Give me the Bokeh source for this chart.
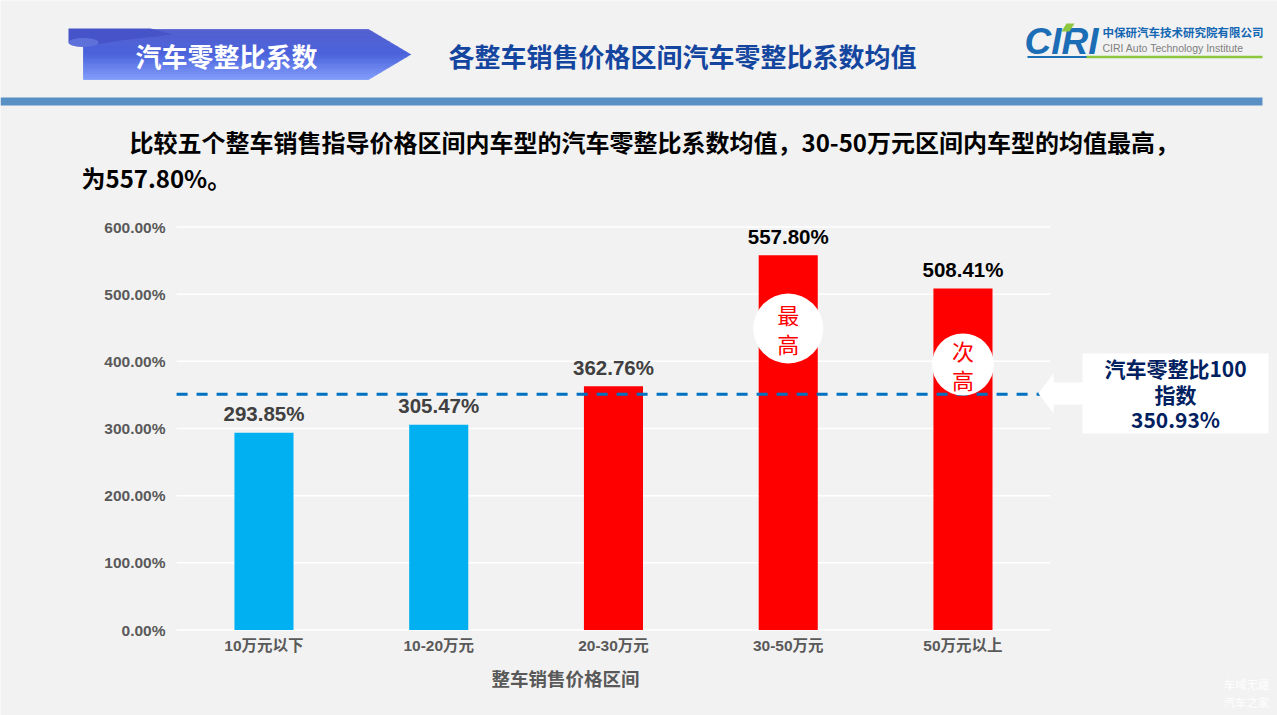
from bokeh.plotting import figure
from bokeh.models import Range1d
from bokeh.core.properties import value
from bokeh.embed import file_html
from bokeh.resources import INLINE

# ---------------- data ----------------
categories = ["10万元以下", "10-20万元", "20-30万元", "30-50万元", "50万元以上"]
coef_mean = [293.85, 305.47, 362.76, 557.80, 508.41]
benchmark = 350.93
y_ticks = [0, 100, 200, 300, 400, 500, 600]
rank_labels = {3: ["最", "高"], 4: ["次", "高"]}
header_tag = "汽车零整比系数"
title_text = "各整车销售价格区间汽车零整比系数均值"
para_line1 = "比较五个整车销售指导价格区间内车型的汽车零整比系数均值，30-50万元区间内车型的均值最高，"
para_line2 = "为557.80%。"
x_title = "整车销售价格区间"
callout_lines = ["汽车零整比100", "指数", f"{benchmark:.2f}%"]
logo_main = "CIRI"
logo_cn = "中保研汽车技术研究院有限公司"
logo_en = "CIRI Auto Technology Institute"
watermark = ["车域无疆", "汽车之家"]

# ---------------- style ----------------
BG = "#F2F2F2"
BLUE_BAR = "#00B0F0"
RED_BAR = "#FF0000"
GRAY = "#595959"
CJK = value("Noto Sans CJK SC")
LAT = value("Liberation Sans, Noto Sans CJK SC")

W, H = 1277, 715
p = figure(width=W, height=H, output_backend="svg", toolbar_location=None,
           x_range=Range1d(0, W), y_range=Range1d(H, 0),
           x_axis_type=None, y_axis_type=None, min_border=0,
           background_fill_color=BG, border_fill_color=BG, outline_line_color=None)

# chart scales (pixel placement of the plot area)
PX0, PX_STEP = 176.1, 174.75
PY0, PY_UNIT = 629.5, 403.0 / 600.0
p.extra_x_ranges = {"cat": Range1d((0 - PX0) / PX_STEP, (W - PX0) / PX_STEP)}
p.extra_y_ranges = {"val": Range1d((PY0 - H) / PY_UNIT, (PY0 - 0) / PY_UNIT)}

n = len(categories)
xs = [i + 0.5 for i in range(n)]

# ---------------- header ----------------
def lerp(c1, c2, t):
    a = [int(c1[i:i + 2], 16) for i in (1, 3, 5)]
    b = [int(c2[i:i + 2], 16) for i in (1, 3, 5)]
    return "#%02x%02x%02x" % tuple(round(a[k] + (b[k] - a[k]) * t) for k in range(3))

top_y, mid_y, bot_y, left_x, corner_x, tip_x = 29.0, 54.0, 79.0, 83.0, 368.0, 410.0
def right_at(y):
    if y <= mid_y:
        return corner_x + (y - top_y) * (tip_x - corner_x) / (mid_y - top_y)
    return tip_x - (y - mid_y) * (tip_x - corner_x) / (bot_y - mid_y)

strips = 20
sx_list, sy_list, sc_list = [], [], []
for k in range(strips):
    ya = top_y + (bot_y - top_y) * k / strips
    yb = top_y + (bot_y - top_y) * (k + 1) / strips
    px = [left_x, right_at(ya)]
    py = [ya, ya]
    if ya < mid_y < yb:
        px.append(tip_x)
        py.append(mid_y)
    px += [right_at(yb), left_x]
    py += [yb, yb]
    sx_list.append(px)
    sy_list.append(py)
    t = k / (strips - 1)
    sc_list.append(lerp("#5461CF", "#4B62DC", t * 2) if t < 0.5 else lerp("#4B62DC", "#7E9AF8", (t - 0.5) * 2))
p.patches(xs=sx_list, ys=sy_list, fill_color=sc_list, line_color=sc_list, line_width=0.8)
# curl of the ribbon
p.patch(x=[68, 150, 172, 120, 83, 68], y=[28, 28, 34, 40, 46, 42], fill_color="#4753C9", line_color=None)
p.ellipse(x=[83], y=[42], width=30, height=9, fill_color="#5E70DA", line_color=None)

p.text(x=[226], y=[55], text=[header_tag], text_font=CJK, text_font_style="bold",
       text_font_size="26px", text_color="white", text_align="center", text_baseline="middle")
p.text(x=[448], y=[55], text=[title_text], text_font=CJK, text_font_style="bold",
       text_font_size="26px", text_color="#1446A0", text_align="left", text_baseline="middle")

# logo
p.text(x=[1024], y=[41], text=[logo_main], text_font=value("Liberation Sans"),
       text_font_style="bold italic", text_font_size="37px", text_color="#1B6DB5",
       text_align="left", text_baseline="middle")
p.patch(x=[1066, 1074, 1069, 1061], y=[23, 23, 31, 31], fill_color="#8DC63F", line_color=None)
p.text(x=[1102], y=[31.5], text=[logo_cn], text_font=CJK, text_font_style="bold",
       text_font_size="11.5px", text_color="#1467B3", text_align="left", text_baseline="middle")
p.text(x=[1102], y=[47.5], text=[logo_en], text_font=value("Liberation Sans"),
       text_font_size="10.5px", text_color="#7F7F7F", text_align="left", text_baseline="middle")
p.segment(x0=[1027], y0=[56.5], x1=[1088], y1=[56.5], line_color="#1B6DB5", line_width=2)
p.segment(x0=[1086], y0=[56.5], x1=[1262], y1=[56.5], line_color="#8DC63F", line_width=2.5)

# blue band
p.quad(left=[0], right=[1262], top=[97], bottom=[105], fill_color="#5890C5", line_color=None)

# paragraph
p.text(x=[129], y=[141], text=[para_line1], text_font=CJK, text_font_style="bold",
       text_font_size="24px", text_color="black", text_align="left", text_baseline="middle")
p.text(x=[81], y=[177], text=[para_line2], text_font=CJK, text_font_style="bold",
       text_font_size="24px", text_color="black", text_align="left", text_baseline="middle")

# ---------------- chart ----------------
p.segment(x0=[0] * len(y_ticks), x1=[n] * len(y_ticks), y0=y_ticks, y1=y_ticks,
          x_range_name="cat", y_range_name="val", line_color="white", line_width=1.5)

bar_colors = [RED_BAR if v > benchmark else BLUE_BAR for v in coef_mean]
p.vbar(x=xs, top=coef_mean, bottom=0, width=0.338, fill_color=bar_colors, line_color=None,
       x_range_name="cat", y_range_name="val")

label_colors = ["black" if v >= max(coef_mean) * 0.85 else "#404040" for v in coef_mean]
p.text(x=xs, y=coef_mean, text=[f"{v:.2f}%" for v in coef_mean], x_range_name="cat",
       y_range_name="val", y_offset=-19, text_font=LAT, text_font_style="bold",
       text_font_size="20.5px", text_color=label_colors, text_align="center",
       text_baseline="middle")

# benchmark dashed line
p.segment(x0=[0], x1=[4.95], y0=[benchmark], y1=[benchmark], x_range_name="cat",
          y_range_name="val", line_color="#0070C0", line_width=3, line_dash="11 9")

# y tick labels
p.text(x=[165] * len(y_ticks), y=y_ticks, text=[f"{t:.2f}%" for t in y_ticks],
       y_range_name="val", text_font=LAT, text_font_style="bold", text_font_size="15.5px",
       text_color=GRAY, text_align="right", text_baseline="middle")
# x tick labels
p.text(x=xs, y=[645] * n, text=categories, x_range_name="cat", text_font=LAT,
       text_font_style="bold", text_font_size="15.5px", text_color=GRAY,
       text_align="center", text_baseline="middle")
p.text(x=[565], y=[677], text=[x_title], text_font=CJK, text_font_style="bold",
       text_font_size="18.5px", text_color=GRAY, text_align="center", text_baseline="middle")

# rank circles
rank_idx = list(rank_labels.keys())
p.scatter(x=[xs[i] for i in rank_idx], y=[328, 364], size=[70, 62], marker="circle",
          fill_color="white", line_color=None, x_range_name="cat")
rk_x, rk_y, rk_t = [], [], []
for i, ry in zip(rank_idx, [(313, 342), (349, 378)]):
    for ch, yy in zip(rank_labels[i], ry):
        rk_x.append(xs[i]); rk_y.append(yy); rk_t.append(ch)
p.text(x=rk_x, y=rk_y, text=rk_t, x_range_name="cat", text_font=CJK,
       text_font_size="22px", text_color=RED_BAR, text_align="center", text_baseline="middle")

# callout
p.patch(x=[1038, 1053, 1053, 1084, 1084, 1053, 1053], y=[393, 373, 382, 382, 404, 404, 413],
        fill_color="white", line_color=None)
p.quad(left=[1082], right=[1268], top=[353], bottom=[433], fill_color="white", line_color=None)
p.text(x=[1175] * 3, y=[367, 393, 418], text=callout_lines, text_font=CJK, text_font_style="bold",
       text_font_size="21px", text_color="#002060", text_align="center", text_baseline="middle")

# watermark
p.text(x=[1246, 1246], y=[683, 701], text=watermark, text_font=CJK, text_font_size="11.5px",
       text_color="white", text_align="center", text_baseline="middle")

html = file_html(p, INLINE)
html = html.replace("<body>", '<body style="background-color:#F2F2F2; overflow:hidden;">', 1)
open("out.html", "w").write(html)
